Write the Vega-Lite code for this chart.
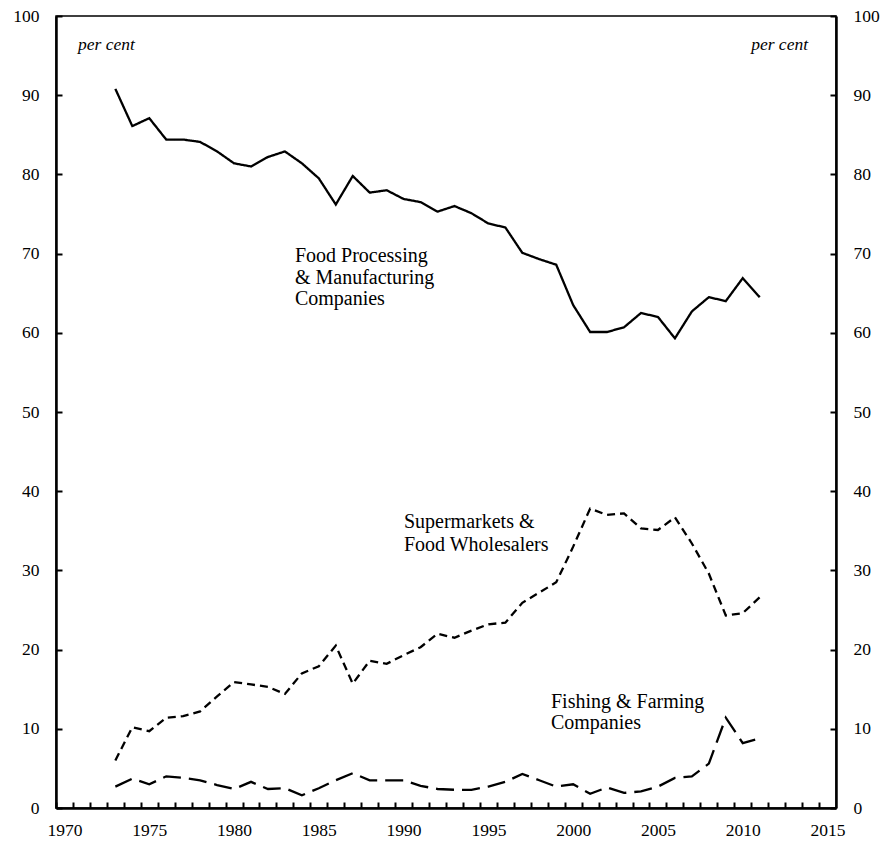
{
 "$schema": "https://vega.github.io/schema/vega-lite/v6.json",
 "width": 780,
 "height": 792,
 "autosize": {"type": "none"},
 "padding": {"left": 56, "top": 16, "right": 45, "bottom": 34},
 "background": "white",
 "config": {
  "view": {"stroke": "black", "strokeWidth": 1.5},
  "axis": {"labelFont": "Liberation Serif", "labelFontSize": 17.5, "labelColor": "black", "domainColor": "black", "domainWidth": 2.5, "tickColor": "black", "tickWidth": 2, "grid": false, "title": null, "zindex": 1},
  "text": {"font": "Liberation Serif", "color": "black"}
 },
 "datasets": {
  "series": [
   {"year":1973,"value":90.8,"series":"Food"},{"year":1974,"value":86.1,"series":"Food"},{"year":1975,"value":87.1,"series":"Food"},{"year":1976,"value":84.4,"series":"Food"},{"year":1977,"value":84.4,"series":"Food"},{"year":1978,"value":84.1,"series":"Food"},{"year":1979,"value":82.9,"series":"Food"},{"year":1980,"value":81.4,"series":"Food"},{"year":1981,"value":81.0,"series":"Food"},{"year":1982,"value":82.2,"series":"Food"},{"year":1983,"value":82.9,"series":"Food"},{"year":1984,"value":81.4,"series":"Food"},{"year":1985,"value":79.5,"series":"Food"},{"year":1986,"value":76.2,"series":"Food"},{"year":1987,"value":79.8,"series":"Food"},{"year":1988,"value":77.7,"series":"Food"},{"year":1989,"value":78.0,"series":"Food"},{"year":1990,"value":76.9,"series":"Food"},{"year":1991,"value":76.5,"series":"Food"},{"year":1992,"value":75.3,"series":"Food"},{"year":1993,"value":76.0,"series":"Food"},{"year":1994,"value":75.1,"series":"Food"},{"year":1995,"value":73.8,"series":"Food"},{"year":1996,"value":73.3,"series":"Food"},{"year":1997,"value":70.1,"series":"Food"},{"year":1998,"value":69.3,"series":"Food"},{"year":1999,"value":68.6,"series":"Food"},{"year":2000,"value":63.5,"series":"Food"},{"year":2001,"value":60.1,"series":"Food"},{"year":2002,"value":60.1,"series":"Food"},{"year":2003,"value":60.7,"series":"Food"},{"year":2004,"value":62.5,"series":"Food"},{"year":2005,"value":62.0,"series":"Food"},{"year":2006,"value":59.3,"series":"Food"},{"year":2007,"value":62.7,"series":"Food"},{"year":2008,"value":64.5,"series":"Food"},{"year":2009,"value":64.0,"series":"Food"},{"year":2010,"value":66.9,"series":"Food"},{"year":2011,"value":64.5,"series":"Food"},
   {"year":1973,"value":6.0,"series":"Super"},{"year":1974,"value":10.2,"series":"Super"},{"year":1975,"value":9.7,"series":"Super"},{"year":1976,"value":11.4,"series":"Super"},{"year":1977,"value":11.6,"series":"Super"},{"year":1978,"value":12.2,"series":"Super"},{"year":1979,"value":14.1,"series":"Super"},{"year":1980,"value":15.9,"series":"Super"},{"year":1981,"value":15.6,"series":"Super"},{"year":1982,"value":15.3,"series":"Super"},{"year":1983,"value":14.4,"series":"Super"},{"year":1984,"value":17.0,"series":"Super"},{"year":1985,"value":17.9,"series":"Super"},{"year":1986,"value":20.5,"series":"Super"},{"year":1987,"value":15.7,"series":"Super"},{"year":1988,"value":18.6,"series":"Super"},{"year":1989,"value":18.2,"series":"Super"},{"year":1990,"value":19.3,"series":"Super"},{"year":1991,"value":20.3,"series":"Super"},{"year":1992,"value":22.0,"series":"Super"},{"year":1993,"value":21.5,"series":"Super"},{"year":1994,"value":22.4,"series":"Super"},{"year":1995,"value":23.2,"series":"Super"},{"year":1996,"value":23.4,"series":"Super"},{"year":1997,"value":25.9,"series":"Super"},{"year":1998,"value":27.2,"series":"Super"},{"year":1999,"value":28.5,"series":"Super"},{"year":2000,"value":33.0,"series":"Super"},{"year":2001,"value":37.8,"series":"Super"},{"year":2002,"value":37.0,"series":"Super"},{"year":2003,"value":37.2,"series":"Super"},{"year":2004,"value":35.3,"series":"Super"},{"year":2005,"value":35.1,"series":"Super"},{"year":2006,"value":36.7,"series":"Super"},{"year":2007,"value":33.4,"series":"Super"},{"year":2008,"value":29.6,"series":"Super"},{"year":2009,"value":24.3,"series":"Super"},{"year":2010,"value":24.6,"series":"Super"},{"year":2011,"value":26.6,"series":"Super"},
   {"year":1973,"value":2.7,"series":"Fish"},{"year":1974,"value":3.7,"series":"Fish"},{"year":1975,"value":3.0,"series":"Fish"},{"year":1976,"value":4.0,"series":"Fish"},{"year":1977,"value":3.8,"series":"Fish"},{"year":1978,"value":3.5,"series":"Fish"},{"year":1979,"value":2.9,"series":"Fish"},{"year":1980,"value":2.4,"series":"Fish"},{"year":1981,"value":3.3,"series":"Fish"},{"year":1982,"value":2.4,"series":"Fish"},{"year":1983,"value":2.5,"series":"Fish"},{"year":1984,"value":1.6,"series":"Fish"},{"year":1985,"value":2.5,"series":"Fish"},{"year":1986,"value":3.5,"series":"Fish"},{"year":1987,"value":4.4,"series":"Fish"},{"year":1988,"value":3.5,"series":"Fish"},{"year":1989,"value":3.5,"series":"Fish"},{"year":1990,"value":3.5,"series":"Fish"},{"year":1991,"value":2.8,"series":"Fish"},{"year":1992,"value":2.4,"series":"Fish"},{"year":1993,"value":2.3,"series":"Fish"},{"year":1994,"value":2.3,"series":"Fish"},{"year":1995,"value":2.7,"series":"Fish"},{"year":1996,"value":3.3,"series":"Fish"},{"year":1997,"value":4.3,"series":"Fish"},{"year":1998,"value":3.5,"series":"Fish"},{"year":1999,"value":2.7,"series":"Fish"},{"year":2000,"value":3.0,"series":"Fish"},{"year":2001,"value":1.8,"series":"Fish"},{"year":2002,"value":2.6,"series":"Fish"},{"year":2003,"value":1.9,"series":"Fish"},{"year":2004,"value":2.1,"series":"Fish"},{"year":2005,"value":2.7,"series":"Fish"},{"year":2006,"value":3.8,"series":"Fish"},{"year":2007,"value":4.0,"series":"Fish"},{"year":2008,"value":5.6,"series":"Fish"},{"year":2009,"value":11.4,"series":"Fish"},{"year":2010,"value":8.2,"series":"Fish"},{"year":2011,"value":8.8,"series":"Fish"}
  ],
  "labels": [
   {"year":1983.59,"value":68.94,"text":"Food Processing"},
   {"year":1983.59,"value":66.2,"text":"& Manufacturing"},
   {"year":1983.59,"value":63.47,"text":"Companies"},
   {"year":1990.02,"value":35.32,"text":"Supermarkets &"},
   {"year":1990.02,"value":32.49,"text":"Food Wholesalers"},
   {"year":1998.69,"value":12.66,"text":"Fishing & Farming"},
   {"year":1998.69,"value":10.01,"text":"Companies"}
  ],
  "units": [
   {"year":1970.8,"value":95.7,"text":"per cent","side":"left"},
   {"year":2013.85,"value":95.7,"text":"per cent","side":"right"}
  ]
 },
 "encoding": {
  "x": {"field": "year", "type": "quantitative", "scale": {"domain": [1969.5, 2015.5], "nice": false, "zero": false},
   "axis": {"values": [1970,1971,1972,1973,1974,1975,1976,1977,1978,1979,1980,1981,1982,1983,1984,1985,1986,1987,1988,1989,1990,1991,1992,1993,1994,1995,1996,1997,1998,1999,2000,2001,2002,2003,2004,2005,2006,2007,2008,2009,2010,2011,2012,2013,2014,2015],
    "format": "d", "labelExpr": "datum.value % 5 === 0 ? datum.label : ''", "labelOverlap": false, "labelFlush": false,
    "tickOffset": -8.478, "labelOffset": 8.478, "tickSize": -6, "labelPadding": 19}}
 },
 "layer": [
  {
   "data": {"name": "series"},
   "mark": {"type": "line", "color": "black", "strokeWidth": 2.3},
   "encoding": {
    "y": {"field": "value", "type": "quantitative", "scale": {"domain": [0, 100], "nice": false},
     "axis": {"orient": "left", "values": [0,10,20,30,40,50,60,70,80,90,100], "tickSize": -6, "labelPadding": 23, "labelFlush": false}},
    "strokeDash": {"field": "series", "type": "nominal", "scale": {"domain": ["Food", "Super", "Fish"], "range": [[1, 0], [8, 5], [18, 8]]}, "legend": null}
   }
  },
  {
   "data": {"name": "labels"},
   "mark": {"type": "text", "align": "left", "baseline": "alphabetic", "fontSize": 20},
   "encoding": {
    "y": {"field": "value", "type": "quantitative", "axis": {"orient": "right", "values": [0,10,20,30,40,50,60,70,80,90,100], "tickSize": -6, "labelPadding": 23, "labelFlush": false}},
    "text": {"field": "text"}
   }
  },
  {
   "data": {"name": "units"},
   "transform": [{"filter": "datum.side === 'left'"}],
   "mark": {"type": "text", "align": "left", "baseline": "alphabetic", "fontSize": 17.5, "fontStyle": "italic"},
   "encoding": {
    "y": {"field": "value", "type": "quantitative", "axis": null},
    "text": {"field": "text"}
   }
  },
  {
   "data": {"name": "units"},
   "transform": [{"filter": "datum.side === 'right'"}],
   "mark": {"type": "text", "align": "right", "baseline": "alphabetic", "fontSize": 17.5, "fontStyle": "italic"},
   "encoding": {
    "y": {"field": "value", "type": "quantitative", "axis": null},
    "text": {"field": "text"}
   }
  }
 ],
 "resolve": {"axis": {"y": "independent"}}
}
